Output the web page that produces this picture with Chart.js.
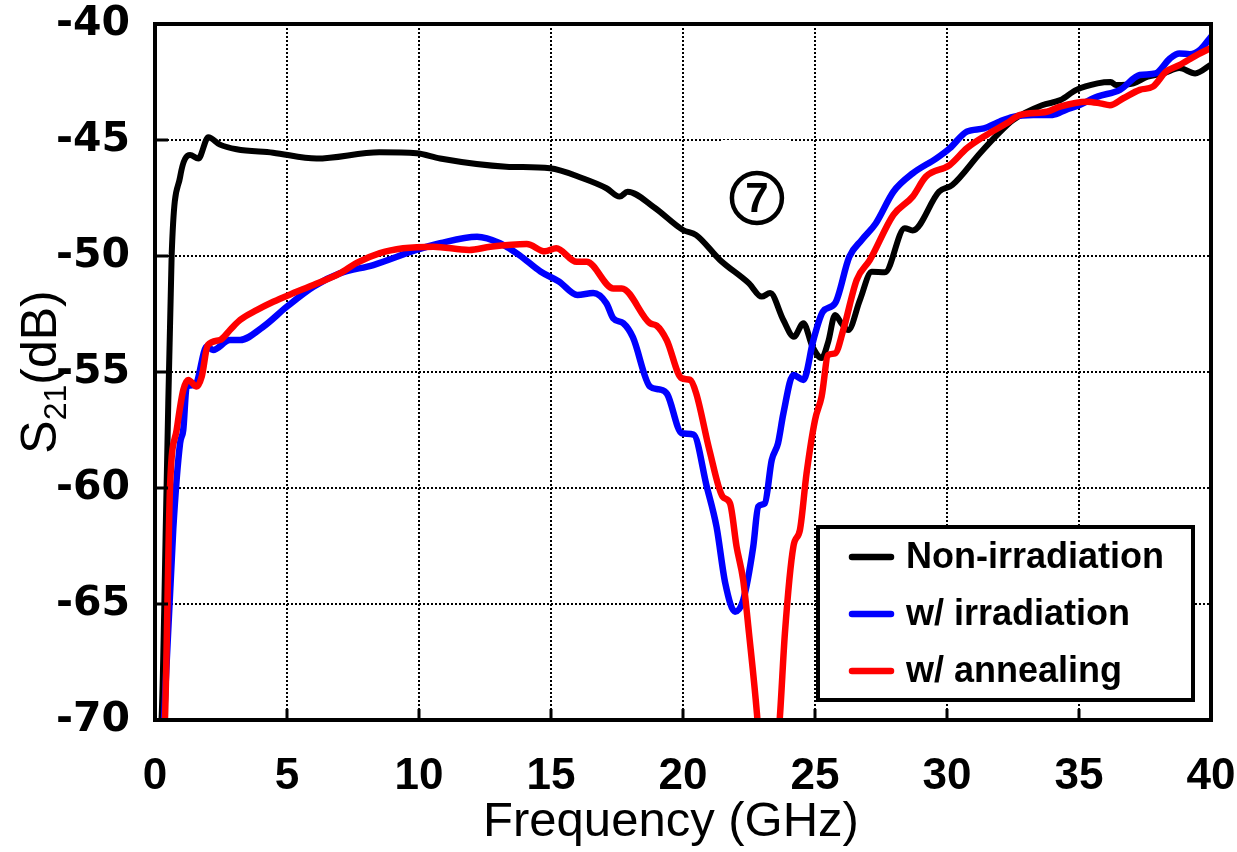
<!DOCTYPE html>
<html>
<head>
<meta charset="utf-8">
<script src="https://cdn.jsdelivr.net/npm/chart.js@4"></script>
<style>
  html, body { margin: 0; padding: 0; background: #fff; }
  #wrap { width: 1237px; height: 852px; }
</style>
</head>
<body>
<div id="wrap"><canvas id="s21Chart" width="1237" height="852"></canvas></div>
<script>
// values (GHz, dB)
const freqNon = [0.12, 0.25, 0.44, 0.63, 0.95, 1.33, 1.64, 2.02, 2.46, 3.09, 4.47, 6.12, 8.5, 9.91, 10.8, 13.3, 14.96, 16.2, 17.1, 17.6, 17.9, 18.9, 20.0, 20.5, 21.4, 22.5, 22.98, 23.3, 23.8, 24.2, 24.56, 24.9, 25.25, 25.5, 25.76, 26.0, 26.26, 26.7, 27.15, 27.65, 28.4, 28.7, 29.7, 30.2, 31.25, 31.9, 32.5, 33.6, 34.3, 34.9, 35.7, 36.2, 36.4, 37.06, 37.6, 38.2, 38.8, 39.4, 40];
const s21Non = [-71, -69.9, -59.9, -50.0, -46.6, -45.65, -45.8, -44.88, -45.2, -45.4, -45.55, -45.8, -45.53, -45.57, -45.8, -46.15, -46.22, -46.65, -47.08, -47.44, -47.23, -47.9, -48.88, -49.1, -50.17, -51.18, -51.75, -51.6, -52.76, -53.48, -52.9, -53.9, -54.4, -53.7, -52.54, -52.9, -53.19, -51.9, -50.68, -50.7, -48.8, -48.9, -47.23, -46.94, -45.57, -44.78, -44.14, -43.5, -43.28, -42.84, -42.56, -42.5, -42.63, -42.56, -42.27, -42.13, -41.9, -42.13, -41.75];

const freqIrr = [0.32, 0.69, 0.95, 1.07, 1.2, 1.52, 1.96, 2.2, 2.84, 3.22, 4.1, 4.99, 6.0, 7.0, 8.27, 9.9, 10.8, 12.2, 13.07, 13.8, 14.6, 15.3, 16.0, 16.6, 17.1, 17.36, 17.74, 18.1, 18.75, 19.1, 19.4, 19.95, 20.4, 20.9, 21.27, 21.6, 21.97, 22.28, 22.66, 22.85, 23.1, 23.36, 23.6, 23.8, 24.18, 24.56, 24.94, 25.3, 25.76, 26.3, 26.77, 27.3, 27.97, 28.7, 29.6, 30.1, 30.75, 31.4, 32.0, 32.5, 33.27, 34.0, 34.5, 35.0, 35.7, 36.55, 37.3, 37.9, 38.45, 38.8, 39.2, 39.6, 40];
const s21Irr = [-70.5, -61.8, -58.07, -57.5, -55.63, -55.56, -53.9, -54.05, -53.62, -53.62, -53.05, -52.19, -51.32, -50.75, -50.39, -49.74, -49.45, -49.17, -49.45, -49.96, -50.67, -51.1, -51.68, -51.6, -52.04, -52.69, -52.9, -53.5, -55.63, -55.75, -55.95, -57.64, -57.7, -59.94, -61.67, -64.1, -65.33, -64.83, -62.53, -60.8, -60.66, -58.8, -58.07, -56.8, -55.13, -55.34, -53.62, -52.4, -52.04, -50.03, -49.31, -48.6, -47.23, -46.44, -45.79, -45.36, -44.64, -44.5, -44.2, -44.0, -43.92, -43.92, -43.7, -43.5, -43.13, -42.84, -42.2, -42.13, -41.48, -41.27, -41.3, -41.1, -40.55];

const freqAnn = [0.3, 0.38, 0.57, 0.82, 1.07, 1.26, 1.58, 1.77, 2.0, 2.46, 2.84, 3.22, 3.85, 4.48, 5.24, 6.0, 7.0, 7.64, 8.52, 9.4, 10.54, 11.9, 12.7, 14.08, 14.77, 15.2, 15.97, 16.35, 17.36, 17.68, 18.75, 19.0, 19.38, 19.95, 20.27, 20.5, 21.0, 21.5, 21.78, 22.03, 22.28, 22.5, 22.8, 23.2, 23.67, 23.86, 24.18, 24.43, 24.68, 25.0, 25.25, 25.5, 25.76, 26.07, 26.58, 27.08, 27.97, 28.7, 29.2, 30.1, 30.75, 31.5, 32.26, 32.77, 33.78, 34.28, 35.3, 35.8, 36.17, 36.68, 37.3, 37.8, 38.3, 38.8, 39.46, 40];
const s21Ann = [-71, -69.86, -59.94, -57.5, -55.78, -55.34, -55.63, -55.2, -53.84, -53.62, -53.19, -52.76, -52.33, -51.97, -51.6, -51.25, -50.75, -50.3, -49.88, -49.67, -49.6, -49.74, -49.6, -49.48, -49.8, -49.67, -50.25, -50.25, -51.4, -51.4, -52.9, -53.0, -53.62, -55.27, -55.34, -55.92, -58.36, -60.37, -60.66, -62.53, -63.97, -66.26, -69.71, -76, -69.86, -66.26, -62.53, -61.8, -59.37, -57.07, -56.06, -54.27, -54.2, -53.19, -51.03, -50.17, -48.23, -47.44, -46.58, -46.08, -45.36, -44.78, -44.28, -43.92, -43.78, -43.56, -43.35, -43.42, -43.5, -43.2, -42.84, -42.7, -42.05, -41.77, -41.34, -41.03];

const seriesNames = ['Non-irradiation', 'w/ irradiation', 'w/ annealing'];
const xTicks = [0, 5, 10, 15, 20, 25, 30, 35, 40];
const yTicks = [-70, -65, -60, -55, -50, -45, -40];

function toPoints(xs, ys) {
    return xs.map((x, i) => ({ x: x, y: ys[i] }));
}

// frame, inner tick marks, legend box, circled label, axis titles
const framePlugin = {
    id: 'frame',
    beforeDatasetsDraw(chart) {
        const ctx = chart.ctx;
        const xs = chart.scales.x, ys = chart.scales.y;
        const cx = xs.getPixelForValue(22.8), cy = ys.getPixelForValue(-47.5);
        ctx.save();
        ctx.fillStyle = '#fff';
        ctx.fillRect(cx - 34, cy - 58, 67, 105);
        ctx.strokeStyle = '#000';
        ctx.lineWidth = 4.5;
        ctx.beginPath();
        ctx.arc(cx, cy, 25, 0, Math.PI * 2);
        ctx.stroke();
        ctx.fillStyle = '#000';
        ctx.font = 'bold 42px "Liberation Sans", Arial, sans-serif';
        ctx.textAlign = 'center';
        ctx.textBaseline = 'middle';
        ctx.fillText('7', cx, cy + 2);
        ctx.restore();
    },
    afterDatasetsDraw(chart) {
        const ctx = chart.ctx;
        const a = chart.chartArea;
        const xs = chart.scales.x, ys = chart.scales.y;
        ctx.save();
        ctx.strokeStyle = '#000';
        ctx.lineWidth = 3;
        ctx.beginPath();
        xTicks.forEach(v => {
            const px = xs.getPixelForValue(v);
            ctx.moveTo(px, a.bottom);
            ctx.lineTo(px, a.bottom - 11);
        });
        yTicks.forEach(v => {
            const py = ys.getPixelForValue(v);
            ctx.moveTo(a.left, py);
            ctx.lineTo(a.left + 13, py);
        });
        ctx.stroke();
        ctx.lineWidth = 4;
        ctx.strokeRect(a.left, a.top, a.right - a.left, a.bottom - a.top);

        // legend
        const w = 375, h = 173;
        const lx = a.right - 18 - w, ly = a.bottom - 20 - h;
        ctx.fillStyle = '#fff';
        ctx.fillRect(lx, ly, w, h);
        ctx.lineWidth = 4;
        ctx.strokeRect(lx, ly, w, h);
        ctx.font = 'bold 36px "Liberation Sans", Arial, sans-serif';
        ctx.textAlign = 'left';
        ctx.textBaseline = 'middle';
        chart.data.datasets.forEach((ds, i) => {
            const yy = ly + 30 + i * 57;
            ctx.strokeStyle = ds.borderColor;
            ctx.lineWidth = 6.5;
            ctx.lineCap = 'round';
            ctx.beginPath();
            ctx.moveTo(lx + 34, yy);
            ctx.lineTo(lx + 73, yy);
            ctx.stroke();
            ctx.fillStyle = '#000';
            ctx.fillText(ds.label, lx + 88, yy + 1);
        });
        ctx.restore();
    },
    afterDraw(chart) {
        const ctx = chart.ctx;
        const a = chart.chartArea;
        ctx.save();
        // x title, centred where the reference has it
        ctx.fillStyle = '#000';
        ctx.font = '49px "Liberation Sans", Arial, sans-serif';
        ctx.textAlign = 'center';
        ctx.textBaseline = 'alphabetic';
        ctx.fillText('Frequency (GHz)', 671, 836);

        // y title with subscript
        ctx.translate(38, (a.top + a.bottom) / 2);
        ctx.rotate(-Math.PI / 2);
        ctx.textAlign = 'left';
        const big = '50px "Liberation Sans", Arial, sans-serif';
        const small = '32px "Liberation Sans", Arial, sans-serif';
        ctx.font = big;
        const wS = ctx.measureText('S').width;
        const wRest = ctx.measureText('(dB)').width;
        ctx.font = small;
        const wSub = ctx.measureText('21').width;
        const x0 = -(wS + wSub + wRest) / 2;
        ctx.font = big;
        ctx.fillText('S', x0, 18);
        ctx.font = small;
        ctx.fillText('21', x0 + wS, 28);
        ctx.font = big;
        ctx.fillText('(dB)', x0 + wS + wSub, 18);
        ctx.restore();
    }
};

const ctx = document.getElementById('s21Chart').getContext('2d');

new Chart(ctx, {
    type: 'line',
    data: {
        datasets: [
            { label: seriesNames[0], data: toPoints(freqNon, s21Non), borderColor: '#000000', borderWidth: 6, order: 2 },
            { label: seriesNames[1], data: toPoints(freqIrr, s21Irr), borderColor: '#0000ff', borderWidth: 6.5, order: 1 },
            { label: seriesNames[2], data: toPoints(freqAnn, s21Ann), borderColor: '#ff0000', borderWidth: 6.5, order: 0 }
        ]
    },
    options: {
        responsive: false,
        animation: false,
        elements: {
            point: { radius: 0 },
            line: { cubicInterpolationMode: 'monotone', fill: false, borderJoinStyle: 'round', borderCapStyle: 'round' }
        },
        layout: { autoPadding: false, padding: { left: 0, right: 26, top: 24, bottom: 0 } },
        plugins: {
            legend: { display: false },
            tooltip: { enabled: false }
        },
        scales: {
            x: {
                type: 'linear',
                min: 0,
                max: 40,
                afterFit: s => { s.height = 132; s.paddingLeft = 0; s.paddingRight = 0; },
                afterBuildTicks: s => { s.ticks = xTicks.map(v => ({ value: v })); },
                grid: { color: '#000', lineWidth: 2, drawTicks: false },
                border: { display: false, dash: [2, 2] },
                ticks: {
                    padding: 30,
                    color: '#000',
                    font: { family: '"Liberation Sans", Arial, sans-serif', size: 44, weight: 'bold' }
                },
                title: { display: false }
            },
            y: {
                type: 'linear',
                min: -70,
                max: -40,
                afterFit: s => { s.width = 155; s.paddingTop = 0; s.paddingBottom = 0; },
                afterBuildTicks: s => { s.ticks = yTicks.map(v => ({ value: v })); },
                grid: { color: '#000', lineWidth: 2, drawTicks: false },
                border: { display: false, dash: [2, 2] },
                ticks: {
                    padding: 25,
                    color: '#000',
                    font: { family: '"DejaVu Sans", sans-serif', size: 41, weight: 'bold' }
                }
            }
        }
    },
    plugins: [framePlugin]
});
</script>
</body>
</html>
